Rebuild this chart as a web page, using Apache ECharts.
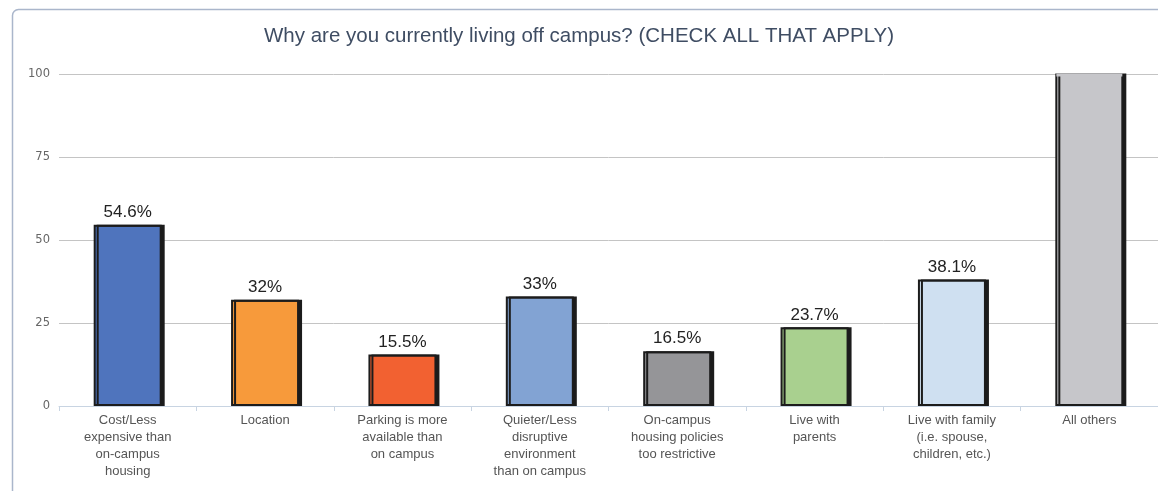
<!DOCTYPE html>
<html>
<head>
<meta charset="utf-8">
<script src="https://cdn.jsdelivr.net/npm/echarts@6/dist/echarts.min.js"></script>
<style>
  html, body { margin: 0; padding: 0; background: #fff; }
  #chart { width: 1158px; height: 491px; }
</style>
</head>
<body>
<div id="chart"></div>
<script>
const TITLE = 'Why are you currently living off campus? (CHECK ALL THAT APPLY)';
const categories = [
  'Cost/Less\nexpensive than\non-campus\nhousing',
  'Location',
  'Parking is more\navailable than\non campus',
  'Quieter/Less\ndisruptive\nenvironment\nthan on campus',
  'On-campus\nhousing policies\ntoo restrictive',
  'Live with\nparents',
  'Live with family\n(i.e. spouse,\nchildren, etc.)',
  'All others'
];
// "All others" runs past the top of the axis in the picture; its value is not shown
const values = [54.6, 32, 15.5, 33, 16.5, 23.7, 38.1, 130];
const labels = ['54.6%', '32%', '15.5%', '33%', '16.5%', '23.7%', '38.1%', ''];
const colors = ['#4f74bd', '#f79a3b', '#f26131', '#82a3d3', '#959598', '#a9d08f', '#cfe0f1', '#c6c6ca'];
const yTicks = [0, 25, 50, 75, 100];

const BAR_W = 68;
const frame = {
  type: 'rect',
  silent: true,
  z: -1,
  shape: { x: 12.5, y: 9.5, width: 1200, height: 600, r: 6 },
  style: { fill: 'none', stroke: '#aab6cb', lineWidth: 1.5 }
};

const chart = echarts.init(document.getElementById('chart'));

const option = {
  animation: false,
  backgroundColor: '#fff',
  title: {
    text: TITLE,
    left: 'center',
    top: 21,
    textStyle: {
      fontFamily: 'Liberation Sans',
      fontSize: 20.5,
      fontWeight: 'normal',
      color: '#3f4d63'
    }
  },
  graphic: [frame],
  grid: {
    left: 59,
    right: -5,
    top: 74,
    height: 332
  },
  xAxis: {
    type: 'category',
    data: categories,
    axisLine: { lineStyle: { color: '#c8d4e2', width: 1 } },
    axisTick: { show: true, length: 5, lineStyle: { color: '#c8d4e2' } },
    axisLabel: {
      interval: 0,
      margin: 6,
      fontFamily: 'Liberation Sans',
      fontSize: 13,
      lineHeight: 17,
      color: '#555',
      align: 'center',
      verticalAlign: 'top'
    }
  },
  yAxis: {
    type: 'value',
    min: 0,
    max: 100,
    interval: 25,
    axisLine: { show: false },
    axisTick: { show: false },
    axisLabel: {
      margin: 9,
      fontFamily: 'DejaVu Sans',
      fontSize: 11.5,
      color: '#666',
      formatter: v => yTicks.includes(v) ? String(v) : ''
    },
    splitLine: { lineStyle: { color: '#c4c4c4', width: 1 } }
  },
  series: [{
    type: 'bar',
    barWidth: BAR_W,
    clip: true,
    data: values.map((v, i) => ({
      value: v,
      itemStyle: { color: colors[i] },
      label: { show: labels[i] !== '' }
    })),
    itemStyle: {
      borderColor: '#1c1c1c',
      borderWidth: 2,
      shadowColor: '#1c1c1c',
      shadowOffsetX: 3,
      shadowOffsetY: 0,
      shadowBlur: 0
    },
    label: {
      position: 'top',
      distance: 4,
      fontFamily: 'Liberation Sans',
      fontSize: 17,
      color: '#222',
      formatter: p => labels[p.dataIndex]
    }
  }]
};

chart.setOption(option);

// the last bar is cut off at the top of the axis: hide its top border
const last = values.length - 1;
const [cx, topY] = chart.convertToPixel({ seriesIndex: 0 }, [last, 100]);
const left = cx - BAR_W / 2;
chart.setOption({
  graphic: [
    frame,
    {
      type: 'rect', silent: true, z: 100,
      shape: { x: left - 3, y: topY - 8, width: BAR_W + 9, height: 7.6 },
      style: { fill: '#fff' }
    },
    {
      type: 'rect', silent: true, z: 100,
      shape: { x: left + 1, y: topY - 0.6, width: BAR_W - 2, height: 3 },
      style: { fill: colors[last] }
    }
  ]
});
</script>
</body>
</html>
